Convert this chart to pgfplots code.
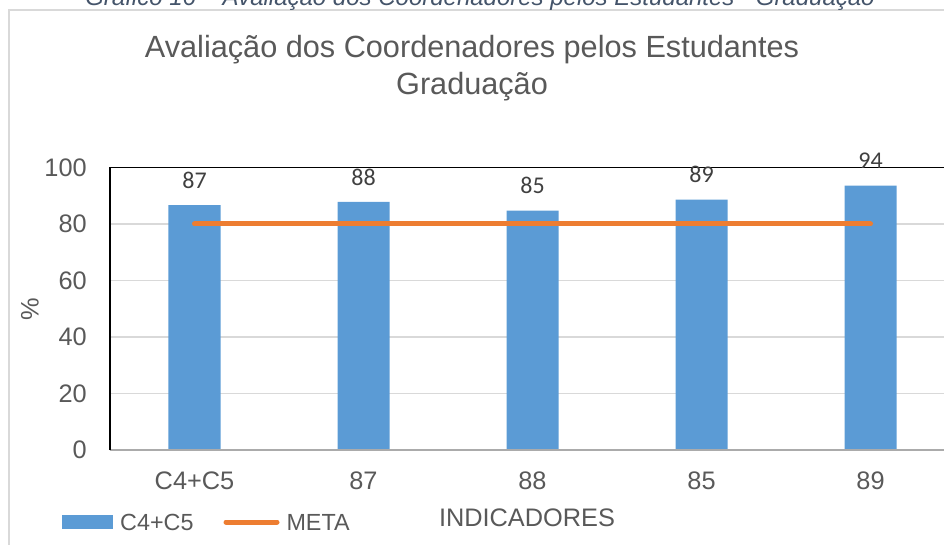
\documentclass[border=0pt]{standalone}
\usepackage{pgfplots}
\pgfplotsset{compat=1.18}
\usepackage{fontspec}
\setmainfont{Liberation Sans}
\newfontfamily\carlito{Carlito}
\definecolor{barblue}{HTML}{5B9BD5}
\definecolor{metaorange}{HTML}{ED7D31}
\definecolor{txtgray}{HTML}{595959}
\definecolor{gridgray}{HTML}{D9D9D9}
\definecolor{capcol}{HTML}{44546A}
\definecolor{axgray}{HTML}{ABABAB}
\begin{document}
\begin{tikzpicture}
\clip (-82.5pt,-71.25pt) rectangle (625.5pt,337.5pt);
% outer chart frame
\draw[gridgray, line width=0.9pt] (-75.75pt,-120pt) -- (-75.75pt,330pt) -- (700pt,330pt);
% caption (cut off at the top)
\node[anchor=base, text=capcol, font=\itshape\fontsize{18pt}{21pt}\selectfont] at (277.5pt,333pt)
  {Gráfico 16 – Avaliação dos Coordenadores pelos Estudantes - Graduação};
% title
\node[anchor=base, text=txtgray, font=\fontsize{23pt}{27pt}\selectfont] at (271.5pt,294pt)
  {Avaliação dos Coordenadores pelos Estudantes};
\node[anchor=base, text=txtgray, font=\fontsize{23pt}{27pt}\selectfont] at (271.5pt,266.25pt)
  {Graduação};
\begin{axis}[
  at={(0pt,0pt)}, anchor=south west,
  scale only axis,
  width=625.5pt, height=211.875pt,
  xmin=-0.5, xmax=4.435,
  ymin=0, ymax=100,
  xtick={0,1,2,3,4},
  xticklabels={C4+C5,87,88,85,89},
  ytick={0,20,40,60,80,100},
  ymajorgrids,
  grid style={gridgray, line width=1pt},
  axis line style={draw=none},
  major tick length=0pt,
  tick style={draw=none},
  /pgf/number format/assume math mode=true,
  tick label style={text=txtgray, font=\fontsize{19pt}{22pt}\selectfont, inner sep=0pt},
  yticklabel style={anchor=east, xshift=-17.25pt},
  xticklabel style={anchor=north, yshift=-16.5pt},
  xlabel={INDICADORES},
  xlabel style={at={(rel axis cs:0.5,0)}, anchor=center, yshift=-51pt, text=txtgray, font=\fontsize{19pt}{22pt}\selectfont},
  ylabel={\%},
  ylabel style={at={(rel axis cs:0,0.5)}, anchor=center, yshift=60pt, text=txtgray, font=\fontsize{19pt}{22pt}\selectfont},
  clip=false,
  legend columns=2,
  legend style={at={(-0.0576,-0.2549)}, anchor=west, draw=none, fill=none, inner sep=0pt,
    nodes={inner sep=0pt, text depth=0pt, text=txtgray, font=\fontsize{17.5pt}{20pt}\selectfont},
    /tikz/every odd column/.append style={column sep=5.25pt},
    /tikz/every even column/.append style={column sep=22.5pt}},
  legend cell align=left,
]
\addplot[ybar, bar width=39pt, fill=barblue, draw=none,
  nodes near coords={\pgfmathprintnumber[fixed,precision=0]{\pgfplotspointmeta}},
  every node near coord/.append style={anchor=center, yshift=18.75pt, text=black!75, font=\carlito\fontsize{18pt}{21pt}\selectfont},
  legend image code/.code={\fill[barblue] (0pt,-5.25pt) rectangle (38.25pt,5.25pt);}]
  coordinates {(0,86.7) (1,87.8) (2,84.7) (3,88.6) (4,93.6)};
\addlegendentry{C4+C5}
\addplot[sharp plot, metaorange, line width=3.75pt, line cap=round, mark=none,
  legend image code/.code={\draw[metaorange, line width=3.75pt, line cap=round] (1.875pt,0pt) -- (40.125pt,0pt);}]
  coordinates {(0,80) (4,80)};
\addlegendentry{META}
\draw[axgray, line width=1.3pt] (rel axis cs:0,0) -- (rel axis cs:1,0);
\draw[black, line width=1.1pt] (rel axis cs:0,0) -- (rel axis cs:0,1) -- (rel axis cs:1,1);
\end{axis}
\end{tikzpicture}
\end{document}
